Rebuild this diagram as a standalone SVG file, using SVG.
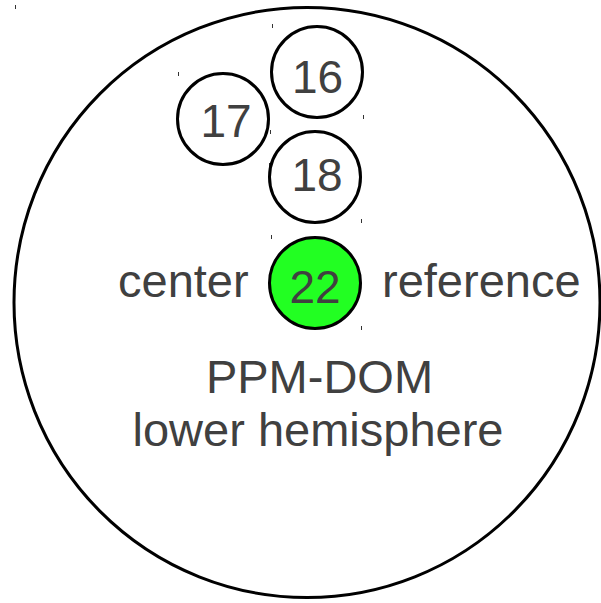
<svg xmlns="http://www.w3.org/2000/svg" width="601" height="603" viewBox="0 0 601 603">
  <style>
    .ring { fill: none; stroke: #000; stroke-width: 3; }
    .pmt { fill: #fff; stroke: #000; stroke-width: 3; }
    .ref { fill: #22ff22; stroke: #000; stroke-width: 3; }
    .t { font-family: "Liberation Sans", Arial, sans-serif; font-size: 47px; fill: #404040; }
    .n { font-size: 46px; }
    .mid { text-anchor: middle; }
    .tick { stroke: #333; stroke-width: 1; }
  </style>
  <rect width="601" height="603" fill="#fff"/>
  <g id="dom">
    <ellipse class="ring" cx="307" cy="302.5" rx="293" ry="295"/>
    <line class="tick" x1="15.5" y1="5" x2="15.5" y2="9"/>
    <text class="t mid" x="319.5" y="393">PPM-DOM</text>
    <text class="t mid" x="318" y="446">lower hemisphere</text>
  </g>
  <g id="pmt16">
    <circle class="pmt" cx="317" cy="72" r="45.5"/>
    <line class="tick" x1="272.5" y1="24" x2="272.5" y2="28"/>
    <line class="tick" x1="363.5" y1="115" x2="363.5" y2="119"/>
    <text class="t n mid" x="317.5" y="93">16</text>
  </g>
  <g id="pmt17">
    <circle class="pmt" cx="223" cy="119" r="45.5"/>
    <line class="tick" x1="178.5" y1="72" x2="178.5" y2="76"/>
    <line class="tick" x1="269.5" y1="163" x2="269.5" y2="167"/>
    <text class="t n mid" x="226" y="137">17</text>
  </g>
  <g id="pmt18">
    <circle class="pmt" cx="315" cy="177" r="45.5"/>
    <line class="tick" x1="270.5" y1="130" x2="270.5" y2="134"/>
    <line class="tick" x1="361.5" y1="219" x2="361.5" y2="223"/>
    <text class="t n mid" x="317" y="191">18</text>
  </g>
  <g id="pmt22">
    <circle class="ref" cx="315" cy="283" r="45.5"/>
    <line class="tick" x1="271.5" y1="235" x2="271.5" y2="239"/>
    <line class="tick" x1="361.5" y1="326" x2="361.5" y2="330"/>
    <text class="t n mid" x="315" y="303">22</text>
  </g>
  <g id="labels">
    <text class="t" x="118" y="297">center</text>
    <text class="t" x="382" y="297">reference</text>
  </g>
  <g id="connectors"/>
</svg>
